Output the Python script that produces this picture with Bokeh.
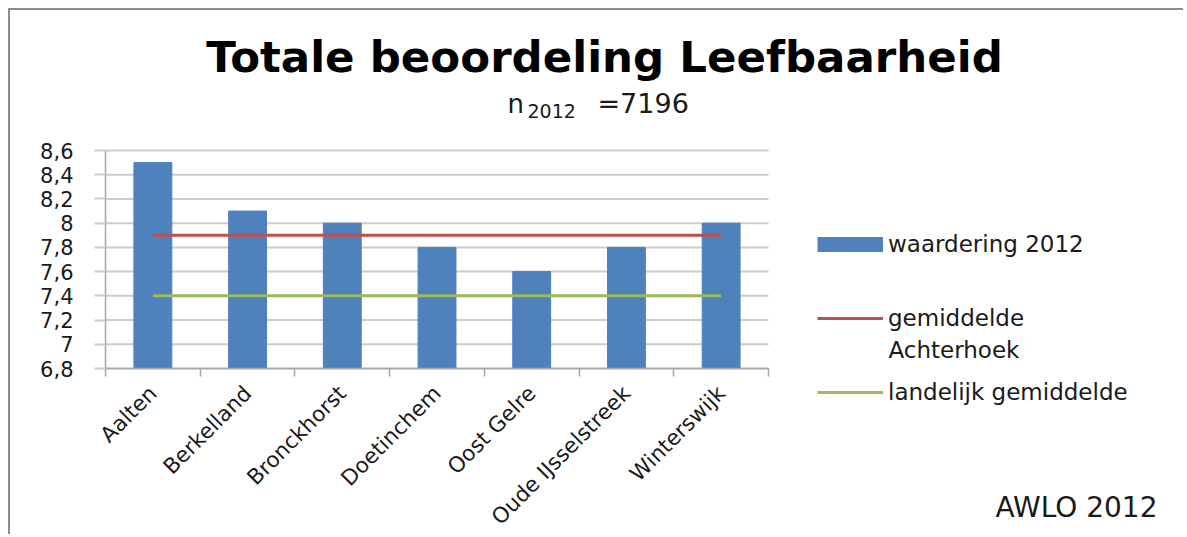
import math
from bokeh.plotting import figure
from bokeh.models import (Legend, LegendItem, LinearAxis, FixedTicker, Range1d, Label)
from bokeh.embed import file_html
from bokeh.resources import INLINE

# ---- data ----
categories = ["Aalten", "Berkelland", "Bronckhorst", "Doetinchem",
              "Oost Gelre", "Oude IJsselstreek", "Winterswijk"]
waardering_2012 = [8.5, 8.1, 8.0, 7.8, 7.6, 7.8, 8.0]
gemiddelde_achterhoek = [7.9, 7.9, 7.9, 7.9, 7.9, 7.9, 7.9]
landelijk_gemiddelde = [7.4, 7.4, 7.4, 7.4, 7.4, 7.4, 7.4]
y_ticks = [6.8, 7.0, 7.2, 7.4, 7.6, 7.8, 8.0, 8.2, 8.4, 8.6]
y_tick_labels = ["6,8", "7", "7,2", "7,4", "7,6", "7,8", "8", "8,2", "8,4", "8,6"]
title_text = "Totale beoordeling Leefbaarheid"
n_label, n_sub, n_value = "n", "2012", "=7196"
legend_labels = ["waardering 2012", "gemiddelde", "landelijk gemiddelde"]
legend_label_second_line = "Achterhoek"
source_text = "AWLO 2012"

FONT = "DejaVu Sans"
BLUE, RED, GREEN = "#4f81bd", "#c0504d", "#9bbb59"
GRID = "#cccccc"
AXIS = "#a6a6a6"
TXT = "#1a1a1a"

# canvas size and plot-area placement (pixels)
W, H = 1175, 526
FL, FR, FT, FB = 95, 758, 140, 358

n_cat = len(categories)
x_centers = [i + 0.5 for i in range(n_cat)]
x_bounds = list(range(n_cat + 1))

ppx = (FR - FL) / n_cat
ppy = (FB - FT) / (y_ticks[-1] - y_ticks[0])
x_range = Range1d(-FL / ppx, (W - FL) / ppx)
y_range = Range1d(y_ticks[0] - (H - FB) / ppy, y_ticks[0] + FB / ppy)

p = figure(width=W, height=H, x_range=x_range, y_range=y_range,
           x_axis_location=None, y_axis_location=None, title_location=None,
           output_backend="svg", toolbar_location=None,
           min_border=0, min_border_left=0, min_border_right=0,
           min_border_top=0, min_border_bottom=0)
p.outline_line_color = None
p.background_fill_color = "white"
p.border_fill_color = "white"
p.styles = {"margin-left": "8px", "margin-top": "8px",
            "border-top": "2px solid #8c8c8c", "border-left": "2px solid #8c8c8c"}
p.grid.visible = False

# horizontal gridlines across the plot area
p.segment(x0=0, x1=n_cat, y0=y_ticks, y1=y_ticks, line_color=GRID, line_width=2)

# y axis
ya = LinearAxis(fixed_location=0, ticker=FixedTicker(ticks=y_ticks),
                bounds=(y_ticks[0], y_ticks[-1]))
ya.major_label_overrides = {t: l for t, l in zip(y_ticks, y_tick_labels)}
ya.axis_line_color = AXIS
ya.axis_line_width = 1.5
ya.major_tick_line_color = GRID
ya.major_tick_line_width = 2
ya.major_tick_out = 11
ya.major_tick_in = 0
ya.minor_tick_line_color = None
ya.major_label_standoff = 21
ya.major_label_text_font = FONT
ya.major_label_text_font_size = "21px"
ya.major_label_text_color = TXT
p.add_layout(ya, "left")

# x axis: labels at category centres, ticks at category boundaries
xa = LinearAxis(fixed_location=y_ticks[0],
                ticker=FixedTicker(ticks=x_centers, minor_ticks=x_bounds),
                bounds=(0, n_cat))
xa.major_label_overrides = {x: c for x, c in zip(x_centers, categories)}
xa.axis_line_color = AXIS
xa.axis_line_width = 1.5
xa.major_tick_line_color = None
xa.major_tick_out = 0
xa.major_tick_in = 0
xa.minor_tick_line_color = AXIS
xa.minor_tick_line_width = 1.5
xa.minor_tick_out = 8
xa.minor_tick_in = 0
xa.major_label_orientation = math.pi / 4
xa.major_label_standoff = 13
xa.major_label_text_font = FONT
xa.major_label_text_font_size = "21.5px"
xa.major_label_text_color = TXT
p.add_layout(xa, "below")

# glyphs
bars = p.vbar(x=x_centers, top=waardering_2012, bottom=y_ticks[0], width=0.4,
              fill_color=BLUE, line_color=BLUE)
red = p.line(x=x_centers, y=gemiddelde_achterhoek, line_color=RED, line_width=3)
green = p.line(x=x_centers, y=landelijk_gemiddelde, line_color=GREEN, line_width=3)
# swatch for the bar series in the legend (draws nothing in the plot)
swatch = p.line(x=[float("nan")], y=[float("nan")], line_color=BLUE,
                line_width=15, line_cap="butt")

legend = Legend(items=[LegendItem(label=legend_labels[0], renderers=[swatch]),
                       LegendItem(label=legend_labels[1], renderers=[red]),
                       LegendItem(label=legend_labels[2], renderers=[green])],
                location=(807, H - 397), orientation="vertical",
                glyph_width=66, glyph_height=30, label_height=30,
                spacing=44, padding=0, margin=0, label_standoff=5,
                border_line_color=None, background_fill_alpha=0,
                label_text_font=FONT, label_text_font_size="23px",
                label_text_color=TXT)
p.add_layout(legend, "center")

def lab(text, x, baseline, size, bold=False, align="left"):
    mid = baseline - 0.345 * size
    p.add_layout(Label(x=x, y=H - mid, x_units="screen", y_units="screen", text=text,
                       text_font=FONT, text_font_size=f"{size}px",
                       text_font_style="bold" if bold else "normal",
                       text_align=align, text_baseline="middle",
                       text_color="#000000" if bold else TXT))

lab(title_text, 594, 62, 43.5, bold=True, align="center")
lab(n_label, 497, 102, 26)
lab(n_sub, 517, 107, 19)
lab(n_value, 587, 102, 27)
lab(legend_label_second_line, 878, 347, 23)
lab(source_text, 1147, 507, 28, align="right")

open("out.html", "w").write(file_html(p, INLINE))
